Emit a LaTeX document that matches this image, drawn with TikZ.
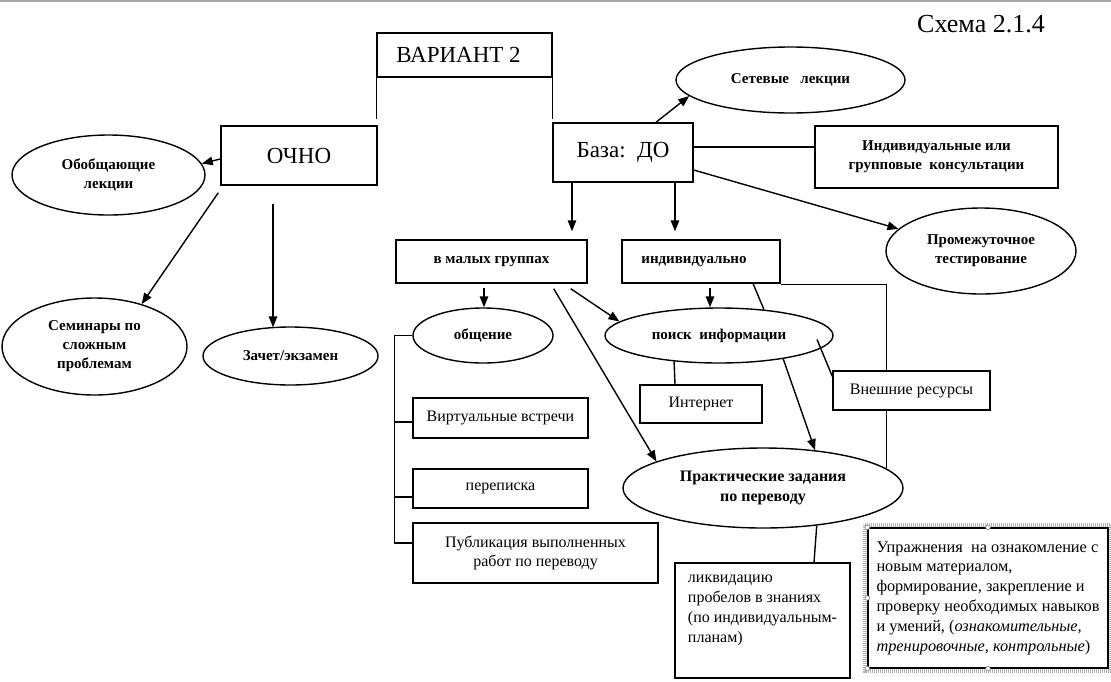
\documentclass[tikz,border=0pt]{standalone}
\usepackage{fontspec}
\setmainfont{Liberation Serif}
\usetikzlibrary{shapes.geometric,arrows.meta,calc,backgrounds}
\begin{document}
\begin{tikzpicture}[x=1pt,y=-1pt,
 box/.style={draw, line width=1.4pt, fill=white, inner sep=0pt, align=center, font=\fontsize{16}{19}\selectfont},
 bbox/.style={box, font=\bfseries\fontsize{15}{19}\selectfont},
 ell/.style={draw, ellipse, line width=1.4pt, fill=white, inner sep=0pt, align=center, font=\bfseries\fontsize{15}{19}\selectfont},
 arr/.style={-{Triangle[length=11pt,width=8.5pt]}, line width=1.4pt},
 ln/.style={line width=1.4pt},
 big/.style={font=\fontsize{23}{27}\selectfont}]
\useasboundingbox (0,0) rectangle (1111,681);

% title
\node[font=\fontsize{26}{30}\selectfont, inner sep=0pt] (schema) at (981,24) {Схема 2.1.4};

% nodes
\node[box, big, minimum width=175, minimum height=44] (var) at (464.5,55) {ВАРИАНТ 2\hspace*{12pt}};
\node[box, big, minimum width=156, minimum height=59] (ochno) at (299,155.5) {ОЧНО};
\node[box, big, minimum width=140, minimum height=59] (base) at (623,152.5) {База:\ \ ДО};
\node[ell, minimum width=193, minimum height=80] (obob) at (108.5,175) {Обобщающие\\лекции};
\node[ell, minimum width=185, minimum height=97] (sem) at (94.5,346.5) {Семинары по\\сложным\\проблемам};
\node[ell, minimum width=175, minimum height=58] (zach) at (290.5,356) {Зачет/экзамен};
\node[ell, minimum width=229, minimum height=66] (set) at (790.5,80) {Сетевые\ \ \ лекции};
\node[bbox, minimum width=243, minimum height=62] (kons) at (936.5,157) {Индивидуальные или\\групповые\ \ консультации};
\node[ell, minimum width=190, minimum height=86] (prom) at (981,251) {Промежуточное\\тестирование};
\node[bbox, minimum width=191, minimum height=43] (malye) at (491.5,261.5) {в малых группах};
\node[bbox, minimum width=158, minimum height=43] (indiv) at (701,261.5) {индивидуально\hspace*{14pt}};
\node[ell, minimum width=140, minimum height=55] (obsh) at (483,335.5) {общение};
\node[ell, minimum width=228, minimum height=55] (poisk) at (719,335.5) {поиск\ \ информации};
\node[box, minimum width=122, minimum height=38] (inet) at (701,404) {Интернет};
\node[box, minimum width=157, minimum height=39] (vnesh) at (911.5,390.5) {Внешние ресурсы};
\node[box, minimum width=175, minimum height=40] (virt) at (500.5,418) {Виртуальные встречи};
\node[box, minimum width=175, minimum height=39] (perep) at (500.5,488.5) {переписка};
\node[box, minimum width=245, minimum height=60] (publ) at (535.5,553) {Публикация выполненных\\работ по переводу};
\node[ell, minimum width=280, minimum height=80, font=\bfseries\fontsize{16}{20}\selectfont] (prakt) at (763,488) {Практические задания\\по переводу};
\node[box, minimum width=175, minimum height=115, align=left, font=\fontsize{16}{20}\selectfont] (likv) at (762.5,620.5)
  {ликвидацию\\пробелов в знаниях\\(по индивидуальным-\\планам)\\[4pt]\mbox{}};
\node[box, minimum width=240, minimum height=140, align=left, font=\fontsize{16.3}{19.8}\selectfont] (upr) at (988,598)
  {Упражнения\ \ на ознакомление с\\новым материалом,\\формирование, закрепление и\\проверку необходимых навыков\\и умений, (\textit{ознакомительные,}\\\textit{тренировочные, контрольные})};

% text-box frame
\draw[gray!60, line width=4pt, dash pattern=on 1pt off 1pt] ($(upr.north west)+(-2.5,-2.5)$) rectangle ($(upr.south east)+(2.5,2.5)$);
\foreach \a in {north west, north, west, south west, south}
  \filldraw[fill=white, draw=gray, line width=0.6pt] (upr.\a) circle (2.3);

% connectors
\begin{scope}[on background layer]
\fill[white] (0,0) rectangle (1111,681);
\fill[gray!70] (0,0) rectangle (1111,2);
\draw[ln] (var.south west) -- ($(var.south west)+(0,41)$);
\draw[ln] (var.south east) -- ($(var.south east)+(0,41)$);
\draw[arr] ($(ochno.west)+(0,3.5)$) -- (obob.7);
\draw[arr] ($(ochno.south west)+(-2,7)$) -- (sem.42);
\draw[arr] ($(ochno.south)+(-26,18)$) -- ($(zach.north)+(-17.5,1)$);
\draw[arr] ($(base.north)+(33,0)$) -- (set.189);
\draw[ln] ($(base.east)+(0,-5.5)$) -- ($(kons.west)+(0,-10)$);
\draw[arr] ($(base.east)+(0,17.5)$) -- (prom.165);
\draw[arr] ($(base.south)+(-51,0)$) -- ($(malye.north)+(80.5,-8)$);
\draw[arr] ($(base.south)+(52,0)$) -- ($(indiv.north)+(-26,-8)$);
\draw[arr] ($(malye.south)+(-7.5,4)$) -- ($(obsh.north)+(1,0)$);
\draw[arr] ($(malye.south east)+(-17,5)$) -- (poisk.172);
\draw[arr] ($(malye.south east)+(-34,5)$) -- (prakt.166);
\draw[arr] ($(indiv.south)+(9,4)$) -- ($(poisk.north)+(-9,0)$);
\draw[ln] ($(indiv.south east)+(-28,-1)$) -- (poisk.30);
\draw[ln] ($(indiv.south east)+(0,1)$) -| (prakt.9);
\draw[ln] (poisk.210) -- ($(inet.north)+(-26,0)$);
\draw[arr] (poisk.-20) -- (prakt.36);
\draw[ln] (obsh.west) -- ($(obsh.west)+(-18,0)$) |- ($(publ.west)+(0,-10)$);
\draw[ln] ($(virt.west)+(-18,4)$) -- ($(virt.west)+(0,4)$);
\draw[ln] ($(perep.west)+(-18,8.5)$) -- ($(perep.west)+(0,8.5)$);
\draw[ln] (prakt.-35) -- ($(likv.north)+(51.5,0)$);
\end{scope}
\draw[ln] ($(poisk.center)+(98,4)$) -- ($(vnesh.north west)+(0,6)$);
\end{tikzpicture}
\end{document}
